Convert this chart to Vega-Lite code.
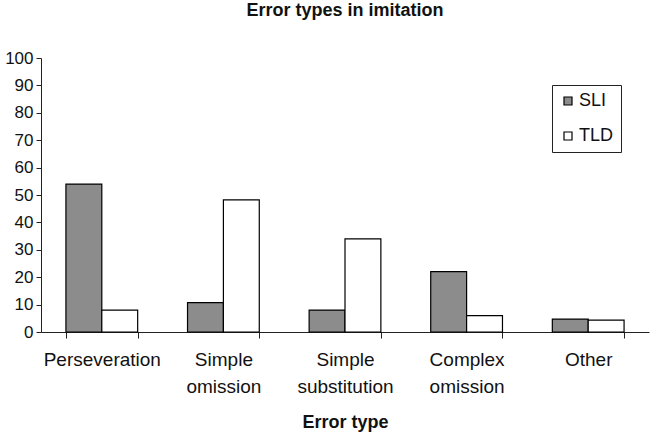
{
  "$schema": "https://vega.github.io/schema/vega-lite/v6.json",
  "autosize": {"type": "none"},
  "padding": {"left": 41, "top": 58, "right": 6, "bottom": 103},
  "width": 608,
  "height": 274,
  "background": "white",
  "title": {
    "text": "Error types in imitation",
    "font": "Liberation Sans",
    "fontSize": 18,
    "fontWeight": "bold",
    "color": "#111",
    "anchor": "middle",
    "offset": 29
  },
  "data": {
    "values": [
      {"type": "Perseveration", "group": "SLI", "value": 54},
      {"type": "Perseveration", "group": "TLD", "value": 8},
      {"type": "Simple omission", "group": "SLI", "value": 10.7},
      {"type": "Simple omission", "group": "TLD", "value": 48.2},
      {"type": "Simple substitution", "group": "SLI", "value": 8},
      {"type": "Simple substitution", "group": "TLD", "value": 34},
      {"type": "Complex omission", "group": "SLI", "value": 22},
      {"type": "Complex omission", "group": "TLD", "value": 6},
      {"type": "Other", "group": "SLI", "value": 4.7},
      {"type": "Other", "group": "TLD", "value": 4.3}
    ]
  },
  "mark": {"type": "bar", "stroke": "black", "strokeWidth": 1.2},
  "encoding": {
    "x": {
      "field": "type",
      "type": "nominal",
      "sort": null,
      "scale": {"paddingInner": 0.41, "paddingOuter": 0.205},
      "axis": {
        "title": "Error type",
        "titleFont": "Liberation Sans",
        "titleFontSize": 18,
        "titleFontWeight": "bold",
        "titleColor": "#111",
        "titlePadding": 17,
        "labelFont": "Liberation Sans",
        "labelFontSize": 19,
        "labelColor": "#111",
        "labelAngle": 0,
        "labelLineHeight": 27,
        "labelPadding": 12,
        "labelExpr": "datum.label == 'Perseveration' || datum.label == 'Other' ? datum.label : split(datum.label, ' ')",
        "tickBand": "extent",
        "tickSize": 6,
        "tickColor": "#222",
        "domainColor": "#222",
        "grid": false
      }
    },
    "xOffset": {"field": "group", "type": "nominal", "scale": {"paddingInner": 0, "paddingOuter": 0}},
    "y": {
      "field": "value",
      "type": "quantitative",
      "scale": {"domain": [0, 100]},
      "axis": {
        "title": null,
        "values": [0, 10, 20, 30, 40, 50, 60, 70, 80, 90, 100],
        "labelFont": "Liberation Sans",
        "labelFontSize": 17,
        "labelColor": "#111",
        "labelPadding": 3,
        "tickSize": 5,
        "tickColor": "#222",
        "domainColor": "#222",
        "grid": false
      }
    },
    "fill": {
      "field": "group",
      "type": "nominal",
      "scale": {"domain": ["SLI", "TLD"], "range": ["#8c8c8c", "#ffffff"]},
      "legend": {
        "title": null,
        "orient": "none",
        "legendX": 511,
        "legendY": 27,
        "strokeColor": "#222",
        "padding": 7,
        "symbolType": "square",
        "symbolSize": 64,
        "symbolStrokeColor": "black",
        "symbolStrokeWidth": 1.2,
        "labelFont": "Liberation Sans",
        "labelFontSize": 18,
        "labelColor": "#111",
        "labelOffset": 2,
        "rowPadding": 17
      }
    }
  },
  "config": {"view": {"stroke": null}}
}
